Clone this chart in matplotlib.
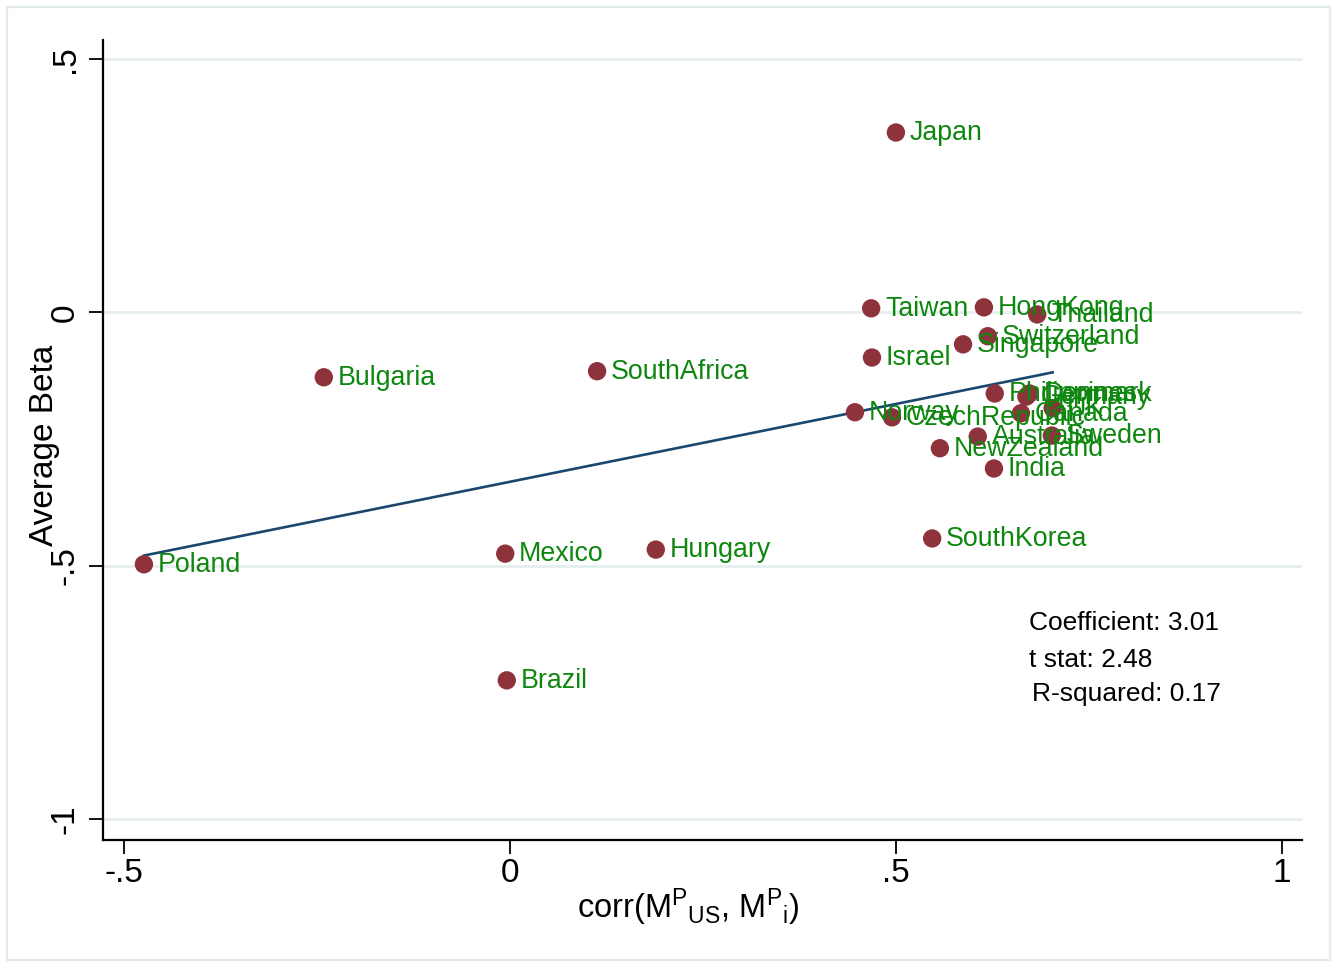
import matplotlib
matplotlib.use("Agg")
import matplotlib.pyplot as plt
from matplotlib.patches import Rectangle
import numpy as np

# Country-level average beta against corr(M^P_US, M^P_i)
COUNTRIES = ["Poland", "Bulgaria", "SouthAfrica", "Mexico", "Hungary", "Brazil",
             "Japan", "Taiwan", "HongKong", "Thailand", "Switzerland", "Singapore",
             "Israel", "Philippines", "Denmark", "Germany", "Canada", "UK",
             "Norway", "CzechRepublic", "Australia", "Sweden", "NewZealand",
             "India", "SouthKorea"]
CORR = [-0.474, -0.241, 0.113, -0.006, 0.189, -0.004,
        0.500, 0.468, 0.614, 0.683, 0.619, 0.587,
        0.469, 0.628, 0.673, 0.669, 0.662, 0.703,
        0.447, 0.495, 0.606, 0.702, 0.557,
        0.627, 0.547]
AVG_BETA = [-0.497, -0.128, -0.116, -0.476, -0.468, -0.726,
            0.355, 0.008, 0.010, -0.004, -0.047, -0.063,
            -0.089, -0.160, -0.160, -0.166, -0.199, -0.189,
            -0.197, -0.207, -0.245, -0.243, -0.268,
            -0.308, -0.446]

X_TICKS = [-0.5, 0, 0.5, 1]
X_TICK_LABELS = ["-.5", "0", ".5", "1"]
Y_TICKS = [-1, -0.5, 0, 0.5]
Y_TICK_LABELS = ["-1", "-.5", "0", ".5"]

STATS_TEXT = ["Coefficient: 3.01", "t stat: 2.48", "R-squared: 0.17"]
STATS_X = [0.672, 0.672, 0.676]
STATS_Y = [-0.612, -0.685, -0.752]

MARKER_COLOR = "#8E333C"
LABEL_COLOR = "#0E870E"
LINE_COLOR = "#1A476F"
GRID_COLOR = "#E6EEF0"

plt.rcParams["font.family"] = ["Liberation Sans", "DejaVu Sans"]
plt.rcParams["mathtext.fontset"] = "custom"
plt.rcParams["mathtext.rm"] = "Liberation Sans"
plt.rcParams["mathtext.it"] = "Liberation Sans"

fig = plt.figure(figsize=(13.36, 9.67), dpi=100)
ax = fig.add_axes([103 / 1336, 1 - 840 / 967, 1199 / 1336, 800 / 967])

# outer frame around the graph region
fig.patches.append(Rectangle((7 / 1336, 7 / 967), 1323 / 1336, 953 / 967,
                             transform=fig.transFigure, fill=False,
                             edgecolor="#E3EBEE", lw=1.6, zorder=0))

ax.set_xlim(-0.527, 1.026)
ax.set_ylim(-1.041, 0.5375)

# linear fit over the observed range
x = np.array(CORR)
y = np.array(AVG_BETA)
slope, intercept = np.polyfit(x, y, 1)
xfit = np.array([x.min(), x.max()])
ax.plot(xfit, intercept + slope * xfit, color=LINE_COLOR, lw=1.9, zorder=2)

ax.scatter(x, y, s=175, color=MARKER_COLOR, edgecolors="none", zorder=3)
for name, xi, yi in zip(COUNTRIES, CORR, AVG_BETA):
    ax.annotate(name, (xi, yi), xytext=(10, -0.5), textcoords="offset points",
                va="center", ha="left", fontsize=19.3, color=LABEL_COLOR, zorder=4)

for txt, tx, ty in zip(STATS_TEXT, STATS_X, STATS_Y):
    ax.text(tx, ty, txt, fontsize=19, ha="left", va="center", color="black")

ax.set_xticks(X_TICKS)
ax.set_xticklabels(X_TICK_LABELS)
ax.set_yticks(Y_TICKS)
ax.set_yticklabels(Y_TICK_LABELS, rotation=90, va="center")
ax.tick_params(axis="both", labelsize=24, length=10, width=1.3, direction="out")
ax.tick_params(axis="x", pad=3)
ax.tick_params(axis="y", pad=6)

ax.yaxis.grid(True, color=GRID_COLOR, lw=2)
ax.set_axisbelow(True)
for side in ["top", "right"]:
    ax.spines[side].set_visible(False)
for side in ["left", "bottom"]:
    ax.spines[side].set_linewidth(1.6)

ax.set_xlabel(r"corr(M${}^{\mathrm{P}}{}_{\mathrm{US}}$, M${}^{\mathrm{P}}{}_{\mathrm{i}}$)",
              fontsize=23.5, va="center")
ax.xaxis.set_label_coords((688 - 103) / 1199, -(907 - 840) / 800)
ax.set_ylabel("Average Beta", fontsize=24, va="center")
ax.yaxis.set_label_coords((45 - 103) / 1199, (840 - 445) / 800)

fig.savefig("out.png", dpi=100)
